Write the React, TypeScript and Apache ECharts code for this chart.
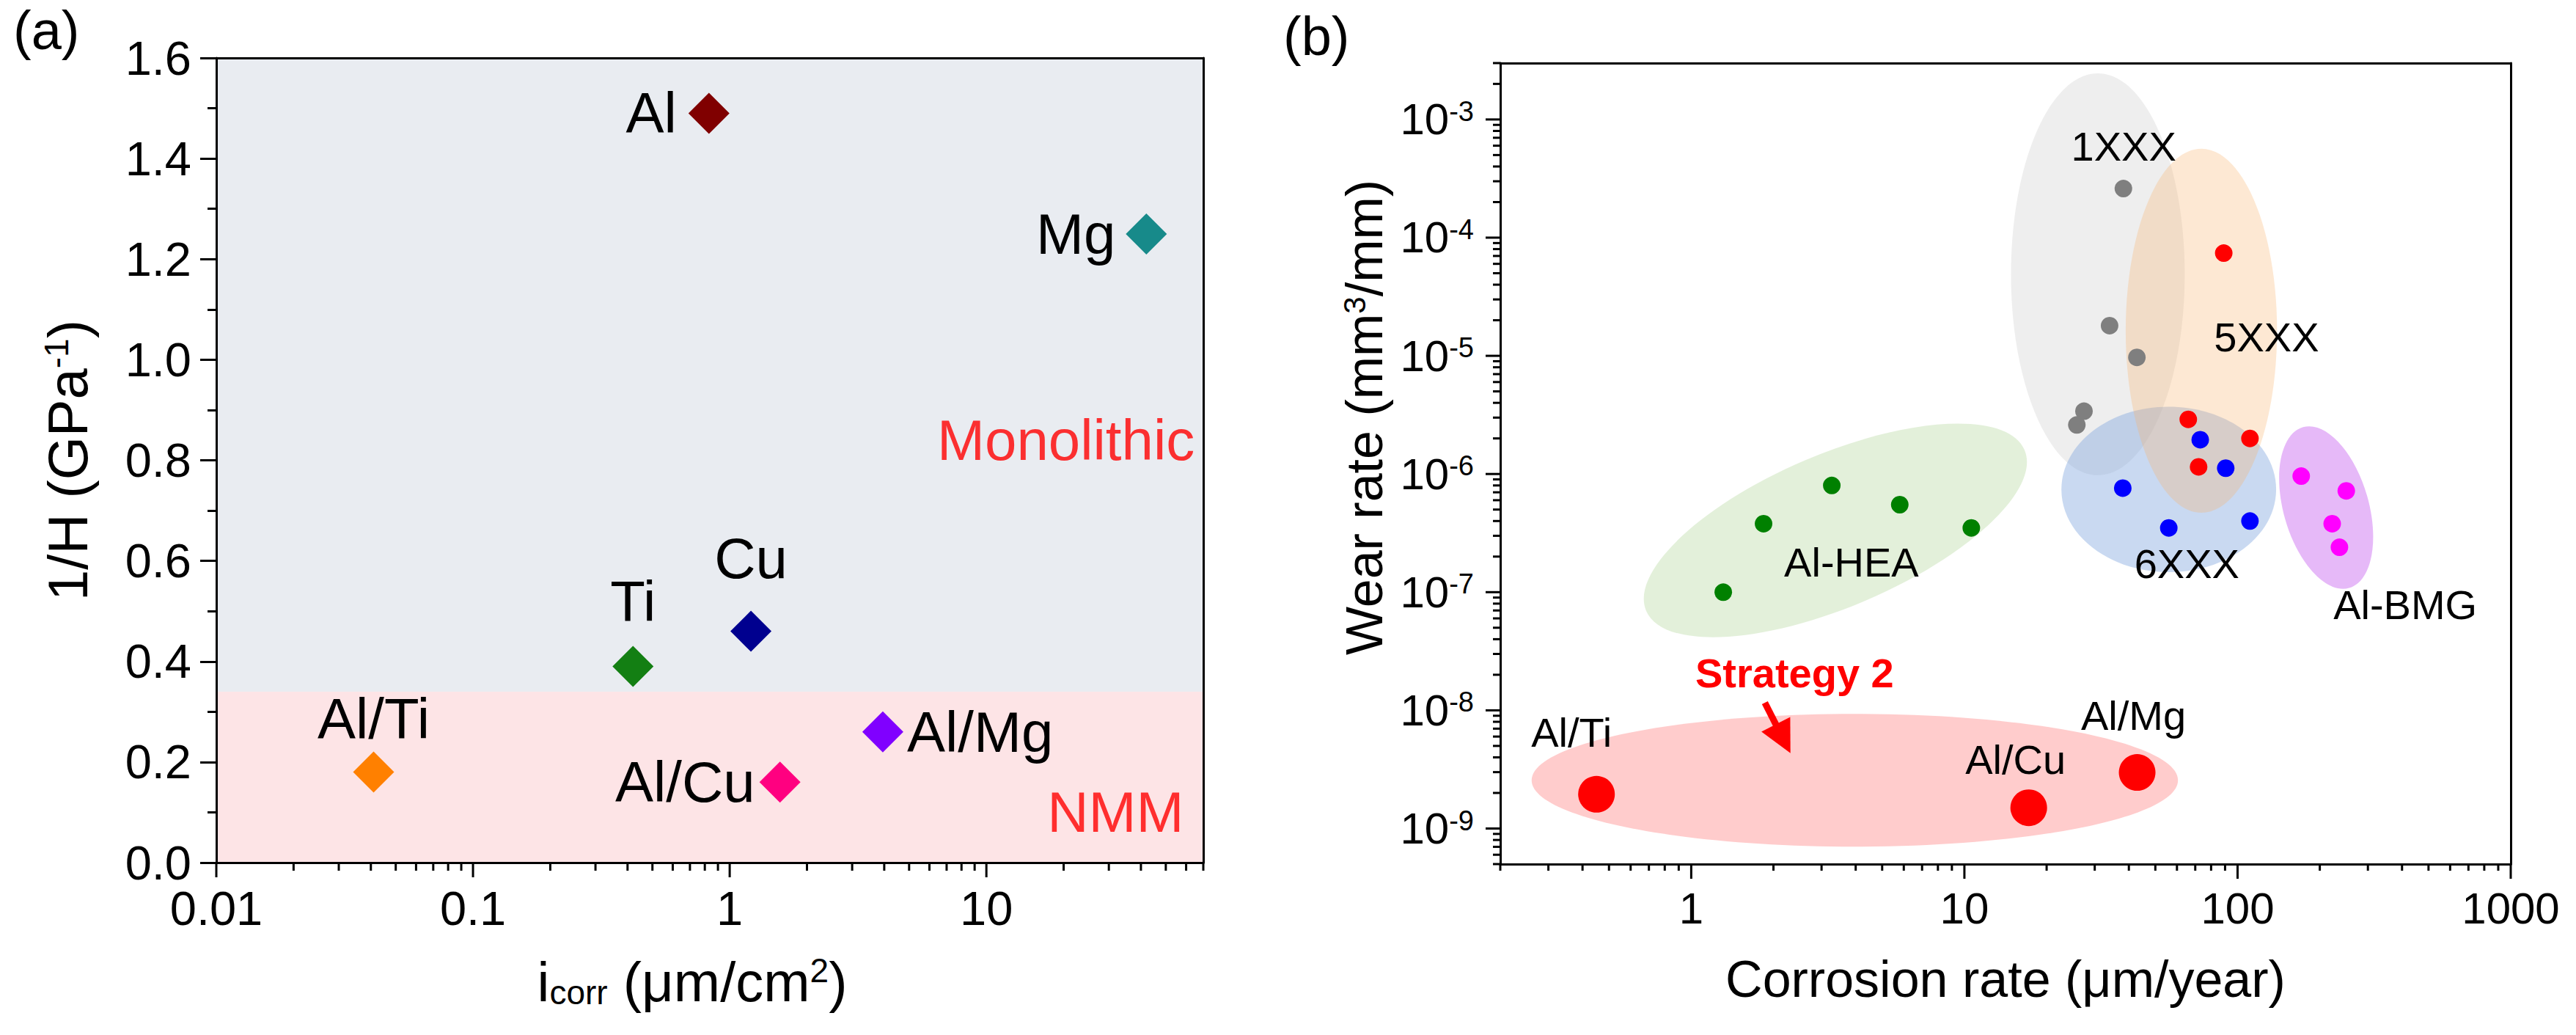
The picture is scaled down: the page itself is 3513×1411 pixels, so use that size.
import React, { useEffect, useRef } from 'react';
import * as echarts from 'echarts';

const FONT = "'Liberation Sans', Arial, Helvetica, sans-serif";

// ---------------- Panel (a) data ----------------
const aNames = ['Al', 'Mg', 'Cu', 'Ti', 'Al/Ti', 'Al/Mg', 'Al/Cu'];
const aIcorr = [0.83, 42, 1.21, 0.42, 0.041, 3.95, 1.57];
const aInvH = [1.49, 1.25, 0.46, 0.39, 0.18, 0.26, 0.16];
const aZoneNames = ['Monolithic', 'NMM'];
const aZoneLow = [0.34, 0];
const aZoneHigh = [1.6, 0.34];
const aZoneLabelX = [65, 59];
const aZoneLabelY = [0.84, 0.1];

// ---------------- Panel (b) data ----------------
const heaCorr = [1.31, 1.84, 3.27, 5.8, 10.6];
const heaWear = [1.0e-7, 3.8e-7, 8.0e-7, 5.5e-7, 3.5e-7];
const s1Corr = [38.2, 34, 42.8, 27.4, 25.8];
const s1Wear = [2.6e-4, 1.8e-5, 9.7e-6, 3.4e-6, 2.6e-6];
const s5Corr = [89, 66, 111, 72];
const s5Wear = [7.4e-5, 2.9e-6, 2.0e-6, 1.15e-6];
const s6Corr = [73, 90.5, 38, 56, 111];
const s6Wear = [1.95e-6, 1.12e-6, 7.6e-7, 3.5e-7, 4.0e-7];
const bmgCorr = [171, 250, 222, 236];
const bmgWear = [9.6e-7, 7.2e-7, 3.8e-7, 2.4e-7];
const nmmNames = ['Al/Ti', 'Al/Cu', 'Al/Mg'];
const nmmCorr = [0.45, 17.2, 42.9];
const nmmWear = [1.95e-9, 1.5e-9, 2.98e-9];

const regionNames = ['1XXX', '6XXX', '5XXX', 'Al-BMG', 'Al-HEA', 'Strategy 2'];
const regionCorr = [30.8, 56, 73.7, 211, 3.37, 3.97];
const regionWear = [4.9e-5, 7.4e-7, 1.63e-5, 5.2e-7, 3.33e-7, 2.56e-9];
const regionHalfDecX = [0.318, 0.393, 0.277, 0.156, 0.752, 1.183];
const regionHalfDecY = [1.7, 0.7, 1.54, 0.708, 0.646, 0.562];
const regionTilt = [0, 0, 0, 16, 23, 0];
const regionLabelCorr = [38.3, 65.2, 127.6, 411, 3.86, 2.39];
const regionLabelWear = [5.9e-4, 1.73e-7, 1.45e-5, 7.8e-8, 1.8e-7, 2.08e-8];
const arrowFrom = [1.86, 1.16e-8];
const arrowTo = [2.17, 5.75e-9];

// ---------------- styles ----------------
const aColors = ['#800000', '#178a8a', '#00008f', '#137f13', '#ff8000', '#8000ff', '#ff0080'];
const aLabelPos = ['left', 'left', 'top', 'top', 'top', 'right', 'left'];
const aLabelDist = [16, 14, 33, 22, 6, 5, 6];
const regionFill = [
  'rgba(200,200,200,0.30)',
  'rgba(120,160,220,0.40)',
  'rgba(248,180,110,0.30)',
  'rgba(200,100,240,0.45)',
  'rgba(150,200,120,0.27)',
  'rgba(255,100,100,0.33)',
];
const regionLabelColor = ['#000', '#000', '#000', '#000', '#000', '#ff0000'];
const regionLabelWeight = ['normal', 'normal', 'normal', 'normal', 'normal', 'bold'];
const nmmLabelOffset = [[-34, -84], [-18, -66], [-5, -78]];

function pow10Exp(v: number): number | null {
  const e = Math.log10(v);
  return Math.abs(e - Math.round(e)) < 1e-6 ? Math.round(e) : null;
}

function buildLogTicks(min: number, max: number): number[][] {
  const out: number[][] = [];
  for (let e = Math.floor(Math.log10(min)); e <= Math.ceil(Math.log10(max)); e++) {
    for (let m = 1; m <= 9; m++) {
      const v = parseFloat((m * Math.pow(10, e)).toPrecision(6));
      if (v >= min * (1 - 1e-9) && v <= max * (1 + 1e-9)) out.push([v, m === 1 ? 1 : 0]);
    }
  }
  return out;
}

function tickSeries(xi: number, yi: number, axis: 'x' | 'y', ticks: number[][], ref: number, majorLen: number, minorLen: number) {
  return {
    type: 'custom',
    xAxisIndex: xi,
    yAxisIndex: yi,
    silent: true,
    clip: false,
    z: 10,
    data: ticks.map((t) => (axis === 'x' ? [t[0], ref, t[1]] : [ref, t[0], t[1]])),
    renderItem: (params: any, api: any) => {
      const cs = params.coordSys;
      const p = api.coord([api.value(0), api.value(1)]);
      const len = api.value(2) ? majorLen : minorLen;
      const style = { stroke: '#000', lineWidth: 3 };
      if (axis === 'x') {
        const yb = cs.y + cs.height;
        return { type: 'line', shape: { x1: p[0], y1: yb, x2: p[0], y2: yb + len }, style };
      }
      return { type: 'line', shape: { x1: cs.x - len, y1: p[1], x2: cs.x, y2: p[1] }, style };
    },
  };
}

const axisLineStyle = { show: true, onZero: false, lineStyle: { color: '#000', width: 3 } };
const frameAxis = (gridIndex: number, type: string, min: number, max: number, position: string) => ({
  gridIndex,
  type,
  min,
  max,
  position,
  z: 10,
  axisLine: axisLineStyle,
  axisTick: { show: false },
  axisLabel: { show: false },
  splitLine: { show: false },
  minorTick: { show: false },
  minorSplitLine: { show: false },
});

function buildOption(): any {
  const supRich = (size: number, lh: number) => ({ fontSize: size, fontFamily: FONT, color: '#000', verticalAlign: 'top', lineHeight: lh });
  const subRich = (size: number, lh: number) => ({ fontSize: size, fontFamily: FONT, color: '#000', verticalAlign: 'bottom', lineHeight: lh });

  const scatterSeries = (name: string, xs: number[], ys: number[], color: string, size: number) => ({
    type: 'scatter',
    name,
    xAxisIndex: 2,
    yAxisIndex: 2,
    symbol: 'circle',
    symbolSize: size,
    itemStyle: { color, opacity: 1 },
    z: 4,
    data: xs.map((x, i) => [x, ys[i]]),
  });

  return {
    animation: false,
    backgroundColor: '#fff',
    title: [
      { text: '(a)', left: 18, top: 4, padding: 0, textStyle: { fontSize: 74, fontWeight: 'normal', fontFamily: FONT, color: '#000' } },
      { text: '(b)', left: 1750, top: 12, padding: 0, textStyle: { fontSize: 74, fontWeight: 'normal', fontFamily: FONT, color: '#000' } },
    ],
    grid: [
      { left: 295, top: 79, width: 1346, height: 1097, outerBoundsMode: 'none' },
      { left: 2046, top: 86, width: 1378, height: 1092, outerBoundsMode: 'none' },
    ],
    xAxis: [
      {
        gridIndex: 0,
        type: 'log',
        logBase: 10,
        min: 0.01,
        max: 70,
        z: 10,
        axisLine: axisLineStyle,
        axisTick: { show: false },
        minorTick: { show: false },
        splitLine: { show: false },
        minorSplitLine: { show: false },
        axisLabel: {
          color: '#000',
          fontSize: 65,
          fontFamily: FONT,
          margin: 30,
          formatter: (v: number) => (pow10Exp(v) === null ? '' : String(parseFloat(v.toPrecision(3)))),
        },
        name: 'i{sub|corr} (μm/cm{sup|2})',
        nameLocation: 'middle',
        nameGap: 124,
        nameMoveOverlap: false,
        nameTextStyle: {
          fontSize: 76,
          lineHeight: 76,
          fontFamily: FONT,
          color: '#000',
          padding: [0, 48, 0, 0],
          rich: { sub: subRich(46, 22), sup: supRich(46, 30) },
        },
      },
      frameAxis(0, 'log', 0.01, 70, 'top'),
      {
        gridIndex: 1,
        type: 'log',
        logBase: 10,
        min: 0.2,
        max: 1000,
        z: 10,
        axisLine: axisLineStyle,
        axisTick: { show: false },
        minorTick: { show: false },
        splitLine: { show: false },
        minorSplitLine: { show: false },
        axisLabel: {
          color: '#000',
          fontSize: 60,
          fontFamily: FONT,
          margin: 30,
          formatter: (v: number) => (pow10Exp(v) === null ? '' : String(Math.round(v))),
        },
        name: 'Corrosion rate (μm/year)',
        nameLocation: 'middle',
        nameGap: 122,
        nameMoveOverlap: false,
        nameTextStyle: { fontSize: 70, lineHeight: 70, fontFamily: FONT, color: '#000' },
      },
      frameAxis(1, 'log', 0.2, 1000, 'top'),
    ],
    yAxis: [
      {
        gridIndex: 0,
        type: 'value',
        min: 0,
        max: 1.6,
        interval: 0.2,
        z: 10,
        axisLine: axisLineStyle,
        axisTick: { show: true, inside: false, length: 22, lineStyle: { color: '#000', width: 3 } },
        minorTick: { show: true, splitNumber: 2, length: 12, lineStyle: { color: '#000', width: 3 } },
        splitLine: { show: false },
        minorSplitLine: { show: false },
        axisLabel: { color: '#000', fontSize: 65, fontFamily: FONT, margin: 34, formatter: (v: number) => v.toFixed(1) },
        name: '1/H (GPa{sup|-1})',
        nameLocation: 'middle',
        nameGap: 165,
        nameMoveOverlap: false,
        nameTextStyle: {
          fontSize: 76,
          lineHeight: 76,
          fontFamily: FONT,
          color: '#000',
          rich: { sup: supRich(46, 30) },
        },
      },
      frameAxis(0, 'value', 0, 1.6, 'right'),
      {
        gridIndex: 1,
        type: 'log',
        logBase: 10,
        min: 5e-10,
        max: 3e-3,
        z: 10,
        axisLine: axisLineStyle,
        axisTick: { show: false },
        minorTick: { show: false },
        splitLine: { show: false },
        minorSplitLine: { show: false },
        axisLabel: {
          color: '#000',
          margin: 36,
          formatter: (v: number) => {
            const e = pow10Exp(v);
            return e === null ? '' : `{b|10}{s|${e}}`;
          },
          rich: {
            b: { fontSize: 60, lineHeight: 60, fontFamily: FONT, color: '#000' },
            s: { fontSize: 38, lineHeight: 24, fontFamily: FONT, color: '#000', verticalAlign: 'top' },
          },
        },
        name: 'Wear rate (mm{sup|3}/mm)',
        nameLocation: 'middle',
        nameGap: 150,
        nameMoveOverlap: false,
        nameTextStyle: {
          fontSize: 70,
          lineHeight: 70,
          fontFamily: FONT,
          color: '#000',
          padding: [0, 0, 0, 126],
          rich: { sup: supRich(42, 28) },
        },
      },
      frameAxis(1, 'log', 5e-10, 3e-3, 'right'),
    ],
    series: [
      // ---- panel (a) background zones and zone labels
      {
        type: 'scatter',
        xAxisIndex: 0,
        yAxisIndex: 0,
        symbol: 'circle',
        symbolSize: 1,
        itemStyle: { color: 'rgba(0,0,0,0)' },
        silent: true,
        z: 3,
        data: aZoneNames.map((n, i) => ({ name: n, value: [aZoneLabelX[i], aZoneLabelY[i]] })),
        label: {
          show: true,
          position: 'left',
          distance: 0,
          formatter: (p: any) => p.name,
          color: '#ff0000',
          fontSize: 78,
          fontFamily: FONT,
          textBorderWidth: 0,
        },
        markArea: {
          silent: true,
          label: { show: false },
          data: aZoneNames.map((n, i) => [
            { yAxis: aZoneLow[i], itemStyle: { color: i === 0 ? '#e9ecf1' : '#fde4e6', opacity: 1 } },
            { yAxis: aZoneHigh[i] },
          ]),
        },
      },
      // ---- panel (a) points
      {
        type: 'scatter',
        xAxisIndex: 0,
        yAxisIndex: 0,
        symbol: 'diamond',
        symbolSize: 56,
        z: 5,
        data: aNames.map((n, i) => ({
          name: n,
          value: [aIcorr[i], aInvH[i]],
          itemStyle: { color: aColors[i], opacity: 1 },
          label: { show: true, position: aLabelPos[i], distance: aLabelDist[i] },
        })),
        label: { show: true, formatter: (p: any) => p.name, color: '#000', fontSize: 78, fontFamily: FONT },
      },
      tickSeries(0, 0, 'x', buildLogTicks(0.01, 70), 0.8, 20, 11),
      // ---- panel (b) regions
      {
        type: 'custom',
        xAxisIndex: 2,
        yAxisIndex: 2,
        silent: true,
        clip: true,
        z: 2,
        data: regionNames.map((n, i) => [regionCorr[i], regionWear[i], regionHalfDecX[i], regionHalfDecY[i], regionTilt[i]]),
        renderItem: (params: any, api: any) => {
          const x = api.value(0);
          const y = api.value(1);
          const c = api.coord([x, y]);
          const cx10 = api.coord([x * 10, y]);
          const cy10 = api.coord([x, y * 10]);
          const pxX = cx10[0] - c[0];
          const pxY = c[1] - cy10[1];
          return {
            type: 'ellipse',
            x: c[0],
            y: c[1],
            rotation: (api.value(4) * Math.PI) / 180,
            shape: { cx: 0, cy: 0, rx: api.value(2) * pxX, ry: api.value(3) * pxY },
            style: { fill: regionFill[params.dataIndex] },
          };
        },
      },
      scatterSeries('Al-HEA', heaCorr, heaWear, '#008000', 24),
      scatterSeries('1XXX', s1Corr, s1Wear, '#7f7f7f', 24),
      scatterSeries('5XXX', s5Corr, s5Wear, '#ff0000', 24),
      scatterSeries('6XXX', s6Corr, s6Wear, '#0000ff', 24),
      scatterSeries('Al-BMG', bmgCorr, bmgWear, '#ff00ff', 24),
      {
        type: 'scatter',
        xAxisIndex: 2,
        yAxisIndex: 2,
        symbol: 'circle',
        symbolSize: 50,
        z: 5,
        itemStyle: { color: '#ff0000', opacity: 1 },
        data: nmmNames.map((n, i) => ({
          name: n,
          value: [nmmCorr[i], nmmWear[i]],
          label: { show: true, position: 'inside', offset: nmmLabelOffset[i] },
        })),
        label: { show: true, formatter: (p: any) => p.name, color: '#000', fontSize: 56, fontFamily: FONT, textBorderWidth: 0 },
        markLine: {
          silent: true,
          symbol: ['none', 'triangle'],
          symbolSize: 44,
          label: { show: false },
          lineStyle: { color: '#ff0000', width: 9, type: 'solid', opacity: 1 },
          itemStyle: { color: '#ff0000' },
          data: [[{ coord: arrowFrom }, { coord: arrowTo }]],
        },
      },
      {
        type: 'scatter',
        xAxisIndex: 2,
        yAxisIndex: 2,
        symbol: 'circle',
        symbolSize: 1,
        silent: true,
        z: 6,
        itemStyle: { color: 'rgba(0,0,0,0)' },
        data: regionNames.map((n, i) => ({
          name: n,
          value: [regionLabelCorr[i], regionLabelWear[i]],
          label: { color: regionLabelColor[i], fontWeight: regionLabelWeight[i] },
        })),
        label: {
          show: true,
          position: 'inside',
          formatter: (p: any) => p.name,
          fontSize: 56,
          fontFamily: FONT,
          color: '#000',
          opacity: 1,
          textBorderWidth: 0,
        },
      },
      tickSeries(2, 2, 'x', buildLogTicks(0.2, 1000), 1e-6, 20, 9),
      tickSeries(2, 2, 'y', buildLogTicks(5e-10, 3e-3), 1, 20, 10),
    ],
  };
}

export default function App() {
  const ref = useRef<HTMLDivElement>(null);
  useEffect(() => {
    document.body.style.margin = '0';
    const chart = echarts.init(ref.current as HTMLDivElement, null, { renderer: 'svg' });
    chart.setOption(buildOption());
    return () => chart.dispose();
  }, []);
  return <div ref={ref} style={{ width: 3513, height: 1411 }} />;
}
